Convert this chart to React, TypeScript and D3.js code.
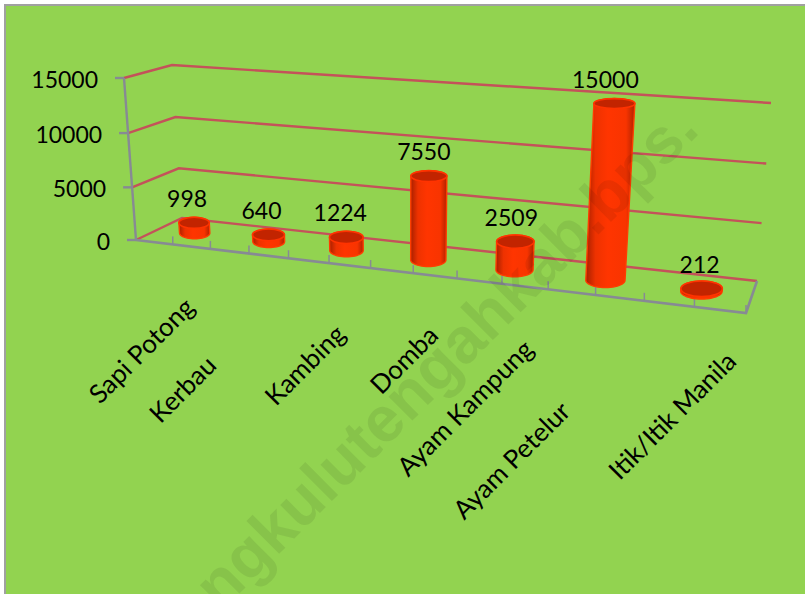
import React from 'react';
import * as d3 from 'd3';

const categories = ['Sapi Potong', 'Kerbau', 'Kambing', 'Domba', 'Ayam Kampung', 'Ayam Petelur', 'Itik/Itik Manila'];
const values = [998, 640, 1224, 7550, 2509, 15000, 212];
const yTicks = [0, 5000, 10000, 15000];
const yLevels = [0, 0.325, 0.66, 1];

const width = 805;
const height = 594;
const font = 'Lato, Carlito, sans-serif';

// 3d box corners on screen: [u][v] for floor (value 0) and ceiling (value 15000)
const floor = [
  [[136, 240], [182, 218]],
  [[746, 313], [757, 281]],
];
const ceiling = [
  [[124, 78], [172, 65]],
  [[763, 125], [771, 103]],
];
const tickCount = 14;
const foreshorten = 0.2;
const barRadius = 0.42;
const barDepth = 0.25;

// where the end of each rotated category label sits
const labelEnds = [
  [196, 309], [218, 367], [347, 336], [440, 337], [535, 351], [572, 413], [738, 363],
];
// nudge of the value labels off the bar centre
const valueNudge = [-7, -7, -6, -5, -4, -9, -2];

const level = d3.scaleLinear().domain(yTicks).range(yLevels);
const band = d3.scaleBand().domain(categories).range([0, tickCount]);
const lerp = (a: number, b: number, k: number) => d3.interpolateNumber(a, b)(k);

function project(t: number, v: number, value: number): [number, number] {
  const s = t / tickCount;
  const u = s / (1 + foreshorten * (1 - s));
  const w = level(value);
  const corner = (i: number, j: number, axis: number) => lerp(floor[i][j][axis], ceiling[i][j][axis], w);
  const side = (j: number, axis: number) => lerp(corner(0, j, axis), corner(1, j, axis), u);
  return [lerp(side(0, 0), side(1, 0), v), lerp(side(0, 1), side(1, 1), v)];
}

const closed = d3.line().curve(d3.curveLinearClosed);
const half = d3.range(0, 25).map(i => (i / 24) * Math.PI);

// ellipse of the cylinder at one value, kept level on screen
function ring(t: number, value: number) {
  const [cx, cy] = project(t, 0.5, value);
  const rx = (project(t + barRadius, 0.5, value)[0] - project(t - barRadius, 0.5, value)[0]) / 2;
  const ry = barDepth * (project(t, 0, value)[1] - project(t, 1, value)[1]);
  return { cx, cy, rx, ry };
}

const Bar: React.FC<{ name: string; value: number; nudge: number }> = ({ name, value, nudge }) => {
  const t = (band(name) || 0) + band.bandwidth() / 2;
  const base = ring(t, 0);
  const top = ring(t, value);
  const body: [number, number][] = [
    ...half.map((a): [number, number] => [base.cx + base.rx * Math.cos(a), base.cy + base.ry * Math.sin(a)]),
    ...half.map((a): [number, number] => [top.cx - top.rx * Math.cos(a), top.cy - top.ry * Math.sin(a)]),
  ];
  return (
    <g>
      <path d={closed(body) || ''} fill="url(#barBody)" stroke="#ff3c00" strokeWidth={1.4} />
      <ellipse cx={top.cx} cy={top.cy} rx={top.rx} ry={top.ry} fill="#c22400" stroke="#ff3300" strokeWidth={1.6} />
      <text x={top.cx + nudge} y={top.cy - 16} textAnchor="middle" fontSize={23} fontFamily={font} fill="#000">
        {value}
      </text>
    </g>
  );
};

export default function App() {
  const axisColor = '#878a94';
  const gridColor = '#c4525a';
  const [o, right] = [project(0, 0, 0), project(tickCount, 0, 0)];
  const backRight = project(tickCount, 1, 0);
  const yTop = project(0, 0, 15000);

  return (
    <svg
      width={width}
      height={height}
      style={{ position: 'absolute', left: 0, top: 0, display: 'block', background: '#fff' }}
    >
      <defs>
        <linearGradient id="barBody" x1="0" x2="1" y1="0" y2="0">
          <stop offset="0" stopColor="#a82000" />
          <stop offset="0.2" stopColor="#ee3200" />
          <stop offset="0.45" stopColor="#ff3500" />
          <stop offset="0.82" stopColor="#f83400" />
          <stop offset="1" stopColor="#b02200" />
        </linearGradient>
      </defs>
      <rect x={5} y={5} width={width} height={height} fill="#92d350" stroke="#a0a0a0" strokeWidth={2} />

      {yTicks.map(d => {
        const a = project(0, 0, d);
        const b = project(0, 1, d);
        const c = project(tickCount, 1, d);
        return (
          <g key={d}>
            <polyline
              points={[a, b, c].map(p => p.join(',')).join(' ')}
              fill="none"
              stroke={gridColor}
              strokeWidth={2.4}
            />
            <line x1={a[0] - 9} x2={a[0]} y1={a[1]} y2={a[1]} stroke={axisColor} strokeWidth={2.4} />
            <text x={a[0] - 26} y={a[1] + 10} textAnchor="end" fontSize={23} fontFamily={font} fill="#000">
              {d}
            </text>
          </g>
        );
      })}

      <line x1={o[0]} y1={o[1]} x2={yTop[0]} y2={yTop[1]} stroke={axisColor} strokeWidth={2.4} />
      <polyline
        points={[o, right, backRight].map(p => p.join(',')).join(' ')}
        fill="none"
        stroke={axisColor}
        strokeWidth={2.6}
      />
      {d3.range(1, tickCount + 1).map(t => {
        const p = project(t, 0, 0);
        return <line key={t} x1={p[0]} x2={p[0]} y1={p[1]} y2={p[1] - 8} stroke={axisColor} strokeWidth={1.5} />;
      })}

      {categories.map((c, i) => (
        <Bar key={c} name={c} value={values[i]} nudge={valueNudge[i]} />
      ))}

      {categories.map((c, i) => (
        <text
          key={c}
          transform={`translate(${labelEnds[i][0]},${labelEnds[i][1]}) rotate(-45)`}
          textAnchor="end"
          fontSize={26}
          fontFamily={font}
          fill="#000"
        >
          {c}
        </text>
      ))}

      {/* watermark over everything */}
      <text
        transform="translate(701,132) rotate(-45)"
        textAnchor="end"
        fontSize={64}
        fontWeight={700}
        fontFamily='"Liberation Sans", sans-serif'
        fill="#000"
        fillOpacity={0.075}
      >
        bengkulutengahkab.bps.
      </text>
    </svg>
  );
}
